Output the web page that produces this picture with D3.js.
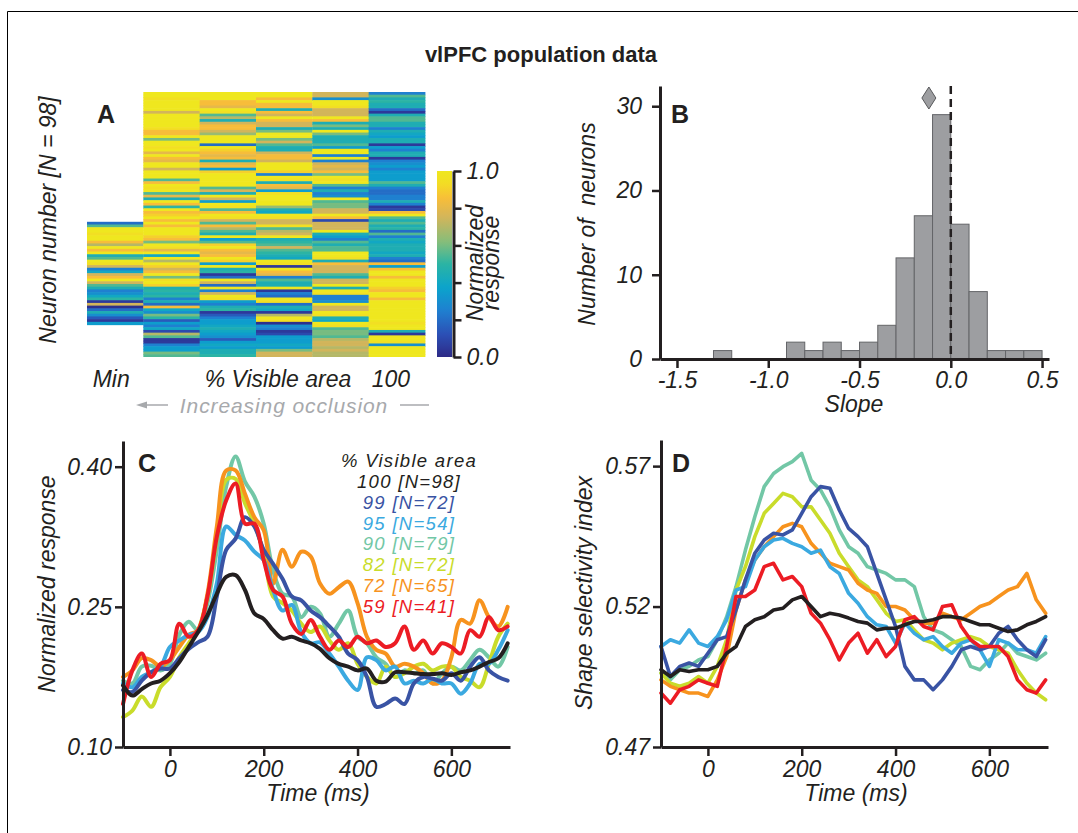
<!DOCTYPE html>
<html><head><meta charset="utf-8">
<script src="https://cdn.jsdelivr.net/npm/d3@7"></script>
<style>
body{margin:0;background:#fff;}
svg{display:block;}
</style></head><body>
<svg id="fig" width="1078" height="833"></svg>
<script>
// ---------------- DATA ----------------
// Panel A: normalized responses, 98 neurons x 6 visibility levels (Min ... 100)
const heatColumnLabels = ["Min", "", "", "", "", "100"];
const heatMinPart = [.2,.55,1,1,.95,1,1,.85,.7,1,.85,1,.45,.55,1,.95,.75,.25,.4,.75,.85,1,.75,.55,.45,.25,.3,.4,.5,.05,.75,.02,.2,.45,.3,.15,.05,.35];
const heatMinFirstNeuron = 48;
const heat2 = [1,1,.95,1,1,1,1,.75,1,1,1,1,1,.95,.85,.85,1,.6,1,1,.95,1,.8,1,.85,.8,1,1,.75,1,1,1,.55,.85,1,.95,1,.55,.8,.45,1,.85,.5,1,.85,.9,1,.85,1,.85,1,1,1,.9,.85,.6,1,.95,.8,1,.4,1,.7,1,.9,.75,.85,1,.6,.95,1,.9,.45,.5,.45,.5,.25,.45,.2,.85,.4,.3,.6,.5,.15,.35,.25,.4,.1,.7,.55,.05,.05,.25,.35,.35,.6,.55];
const heat3 = [1,1,1,.85,.85,.8,1,.95,.55,.7,.45,.75,.85,.85,.75,.65,1,1,1,.2,1,.9,.85,.8,.85,.45,.8,.85,.35,.9,1,1,1,1,1,.55,.75,.45,1,.75,.35,1,.95,.55,.85,1,.95,.75,.55,.85,.7,.55,.45,1,.35,.55,.9,1,.85,.8,.85,1,.9,.35,1,.45,.5,.05,.2,1,.75,.2,1,.25,.75,1,.95,.35,.25,.45,.5,.05,.15,.25,.35,.35,.4,.45,.4,.35,.3,.15,.35,.4,.35,.45,.45,.5];
const heat4 = [1,1,.85,1,.85,.85,.45,.85,.75,1,.85,.75,.75,.45,.6,1,1,.6,.75,.55,.45,.45,.75,.85,.85,.75,1,1,1,.9,.25,1,.95,.45,.85,.8,.35,.95,1,1,1,1,.65,.45,.4,1,.95,.75,.75,.95,.55,.7,.75,1,.45,.5,.55,.75,.55,.5,.45,.4,1,.95,.05,1,.85,.8,.25,.55,.45,.45,1,.05,.25,.2,1,.95,.2,.45,.4,.05,.7,1,.95,.02,.3,.25,.05,.1,.35,.35,.35,.4,.35,.6,.75,.75];
const heat5 = [.75,.75,.3,1,1,.95,.75,.75,.75,1,.85,.45,.6,.45,1,.6,.45,.45,.45,.55,.35,1,1,.25,1,.25,.75,.8,.75,.85,.6,1,.95,1,.55,.25,.45,.25,.3,1,.55,.6,.6,.75,.75,1,.85,.1,.75,.75,.75,1,.45,.35,.25,.55,.45,.55,.55,1,1,.95,.45,.85,.75,.75,.75,.55,.45,.75,.75,1,.45,1,.95,.25,.25,.3,1,.75,.75,1,.95,.45,.4,1,.95,.55,.6,.6,.55,.7,.75,.75,.7,.75,.7,.7];
const heat100 = [.25,.55,.45,.5,.45,.45,.2,.05,.45,.55,.55,.45,.45,.25,.45,.4,.35,.45,.45,.05,.35,.25,.45,.45,.05,.25,.3,.35,.25,.35,.35,.35,.35,.55,.45,.25,.2,.2,.25,.25,.45,.25,.05,.1,.85,1,.55,.45,.55,.45,.5,.2,.55,.25,.45,.4,.45,.45,.45,.4,.45,.25,.2,.85,.35,.85,1,1,.85,1,1,1,.9,.85,1,1,.85,1,1,1,1,1,1,1,1,.95,1,1,.45,.05,1,1,.95,.3,1,1,1,1];
const nNeurons = 98;
const colorbarTicks = [0, 0.2, 0.4, 0.6, 0.8, 1.0];

// Panel B: histogram of slopes
const slopeBinStart = [-1.3,-1.2,-1.1,-1.0,-0.9,-0.8,-0.7,-0.6,-0.5,-0.4,-0.3,-0.2,-0.1,0.0,0.1,0.2,0.3,0.4];
const slopeCounts   = [1,0,0,0,2,1,2,1,2,4,12,17,29,16,8,1,1,1];
const slopeBinWidth = 0.1;
const slopeMedian = -0.12;
const slopeTicks = [-1.5,-1.0,-0.5,0.0,0.5];
const countTicks = [0,10,20,30];

// Panels C & D: time courses
const visLevels = ["100","99","95","90","82","72","59"];
const visN      = [98,72,54,79,72,65,41];
const visColors = ["#231f20","#3953a4","#3ba9e0","#72c7a6","#c9dc2b","#f7931e","#ec1c24"];
const timeMs = [-100,-80,-60,-40,-20,0,20,40,60,80,100,120,140,160,180,200,220,240,260,280,300,320,340,360,380,400,420,440,460,480,500,520,540,560,580,600,620,640,660,680,700,720];
const timeTicks = [0,200,400,600];

const resp100 = [0.166,0.155,0.162,0.168,0.171,0.179,0.191,0.207,0.223,0.241,0.264,0.282,0.284,0.268,0.243,0.237,0.225,0.216,0.218,0.214,0.211,0.205,0.195,0.189,0.186,0.182,0.184,0.171,0.170,0.180,0.180,0.179,0.178,0.178,0.179,0.177,0.180,0.182,0.186,0.191,0.195,0.211];
const resp99  = [0.161,0.159,0.171,0.180,0.184,0.184,0.195,0.205,0.212,0.218,0.261,0.311,0.323,0.346,0.336,0.311,0.296,0.280,0.261,0.257,0.246,0.239,0.229,0.218,0.200,0.193,0.175,0.143,0.146,0.152,0.146,0.168,0.175,0.173,0.171,0.179,0.171,0.186,0.196,0.182,0.175,0.171];
const resp95  = [0.168,0.164,0.175,0.180,0.186,0.207,0.214,0.220,0.223,0.239,0.275,0.336,0.327,0.321,0.309,0.300,0.268,0.246,0.252,0.223,0.211,0.212,0.200,0.186,0.171,0.161,0.196,0.193,0.182,0.186,0.168,0.171,0.168,0.173,0.168,0.168,0.157,0.168,0.189,0.189,0.204,0.225];
const resp90  = [0.171,0.168,0.186,0.187,0.182,0.189,0.220,0.234,0.225,0.254,0.311,0.379,0.411,0.384,0.368,0.339,0.289,0.264,0.261,0.239,0.250,0.243,0.218,0.232,0.246,0.218,0.211,0.196,0.189,0.175,0.182,0.179,0.182,0.168,0.179,0.186,0.182,0.193,0.204,0.196,0.186,0.207];
const resp82  = [0.132,0.139,0.154,0.143,0.164,0.175,0.196,0.211,0.225,0.261,0.325,0.386,0.387,0.361,0.339,0.307,0.261,0.254,0.246,0.232,0.223,0.229,0.214,0.204,0.211,0.189,0.175,0.168,0.186,0.175,0.179,0.186,0.189,0.182,0.186,0.186,0.175,0.171,0.164,0.189,0.218,0.232];
const resp72  = [0.175,0.182,0.195,0.193,0.186,0.193,0.207,0.220,0.225,0.264,0.336,0.396,0.396,0.371,0.346,0.332,0.275,0.311,0.293,0.309,0.304,0.275,0.264,0.271,0.277,0.254,0.218,0.204,0.200,0.186,0.189,0.186,0.179,0.168,0.171,0.196,0.236,0.232,0.257,0.239,0.229,0.250];
const resp59  = [0.146,0.182,0.200,0.175,0.189,0.193,0.232,0.218,0.225,0.261,0.325,0.364,0.382,0.339,0.339,0.300,0.268,0.261,0.232,0.221,0.236,0.218,0.204,0.214,0.207,0.218,0.211,0.214,0.207,0.211,0.229,0.204,0.214,0.200,0.211,0.207,0.200,0.225,0.218,0.239,0.225,0.229];
const respTicks = [0.10,0.25,0.40];

const ssi100 = [0.4975,0.4951,0.4975,0.4969,0.4975,0.4975,0.4987,0.5034,0.5058,0.5129,0.5153,0.5164,0.5188,0.5194,0.5224,0.5236,0.5200,0.5164,0.5176,0.5170,0.5159,0.5147,0.5141,0.5117,0.5123,0.5123,0.5135,0.5147,0.5147,0.5153,0.5164,0.5164,0.5159,0.5147,0.5135,0.5135,0.5123,0.5111,0.5117,0.5135,0.5147,0.5164];
const ssi99  = [0.5058,0.4951,0.4987,0.4999,0.4987,0.5034,0.5082,0.5093,0.5188,0.5295,0.5390,0.5437,0.5461,0.5455,0.5473,0.5532,0.5591,0.5627,0.5621,0.5544,0.5478,0.5449,0.5413,0.5318,0.5224,0.5129,0.4987,0.4939,0.4939,0.4904,0.4939,0.4987,0.5046,0.5058,0.5046,0.5058,0.5105,0.5129,0.5082,0.5046,0.5022,0.5082];
const ssi95  = [0.5058,0.5082,0.5070,0.5117,0.5070,0.5058,0.5093,0.5153,0.5259,0.5271,0.5366,0.5413,0.5437,0.5443,0.5425,0.5413,0.5390,0.5401,0.5342,0.5318,0.5247,0.5212,0.5164,0.5135,0.5129,0.5070,0.5141,0.5105,0.5082,0.5093,0.5058,0.5034,0.5070,0.5082,0.5046,0.4987,0.5082,0.5070,0.5046,0.5046,0.5034,0.5093];
const ssi90  = [0.4963,0.4939,0.4975,0.4987,0.5010,0.5022,0.5082,0.5164,0.5271,0.5401,0.5520,0.5627,0.5674,0.5698,0.5716,0.5745,0.5650,0.5615,0.5555,0.5473,0.5413,0.5390,0.5342,0.5330,0.5318,0.5295,0.5295,0.5271,0.5164,0.5117,0.5105,0.5082,0.5058,0.4987,0.4975,0.5010,0.5034,0.5070,0.5034,0.5022,0.5010,0.5034];
const ssi82  = [0.4963,0.4927,0.4916,0.4927,0.4951,0.4927,0.4987,0.5082,0.5259,0.5342,0.5449,0.5532,0.5567,0.5603,0.5591,0.5555,0.5555,0.5508,0.5461,0.5390,0.5342,0.5295,0.5271,0.5224,0.5176,0.5147,0.5153,0.5117,0.5082,0.5070,0.5046,0.5070,0.5082,0.5093,0.5082,0.5058,0.5046,0.5034,0.4975,0.4927,0.4892,0.4868];
const ssi72  = [0.4939,0.4916,0.4904,0.4892,0.4892,0.4880,0.4939,0.5022,0.5188,0.5295,0.5366,0.5413,0.5449,0.5484,0.5496,0.5484,0.5425,0.5390,0.5354,0.5342,0.5330,0.5283,0.5259,0.5247,0.5200,0.5200,0.5188,0.5153,0.5141,0.5141,0.5176,0.5164,0.5153,0.5176,0.5200,0.5212,0.5236,0.5259,0.5271,0.5318,0.5224,0.5176];
const ssi59  = [0.4892,0.4856,0.4904,0.4916,0.4939,0.4927,0.4916,0.5058,0.5236,0.5236,0.5259,0.5342,0.5354,0.5295,0.5307,0.5271,0.5176,0.5141,0.5082,0.5010,0.5070,0.5105,0.5034,0.5082,0.5022,0.5058,0.5153,0.5164,0.5129,0.5117,0.5200,0.5206,0.5129,0.5082,0.5058,0.5058,0.5058,0.5022,0.4939,0.4904,0.4892,0.4939];
const ssiTicks = [0.47,0.52,0.57];

// ---------------- DRAWING ----------------
const FONT = '"Liberation Sans", Arial, Helvetica, sans-serif';
const INK = "#231f20";
const FS = 23;
const svg = d3.select("#fig");

function label(x, y, s, o = {}) {
  const t = svg.append("text")
    .attr("x", x).attr("y", y).text(s)
    .attr("font-family", FONT)
    .attr("font-size", o.size || FS)
    .attr("font-style", o.bold ? "normal" : "italic")
    .attr("font-weight", o.bold ? "bold" : "normal")
    .attr("fill", o.fill || INK)
    .attr("text-anchor", o.anchor || "middle");
  if (o.rot) t.attr("transform", `rotate(-90,${x},${y})`);
  return t;
}
function styleAxis(g) {
  g.attr("font-family", FONT).attr("font-size", FS);
  g.select(".domain").attr("stroke", INK).attr("stroke-width", 3);
  g.selectAll(".tick line").attr("stroke", INK).attr("stroke-width", 2.5);
  g.selectAll(".tick text").attr("font-style", "italic").attr("fill", INK);
}

// frame
svg.append("line").attr("x1", 7.5).attr("y1", 11.5).attr("x2", 1078).attr("y2", 11.5).attr("stroke", "#000").attr("stroke-width", 1);
svg.append("line").attr("x1", 7.5).attr("y1", 11.5).attr("x2", 7.5).attr("y2", 833).attr("stroke", "#000").attr("stroke-width", 1);

// title
label(541, 62, "vlPFC population data", {bold: true, size: 22});

// ----- Panel A -----
const parula = d3.scaleLinear()
  .domain([0, 0.12, 0.25, 0.37, 0.5, 0.62, 0.75, 0.85, 0.93, 1])
  .range(["#2d2a86", "#2c4fb5", "#1f80d0", "#0ba3cc", "#2bb4a4", "#86bd7a", "#d2b55b", "#f7bd3a", "#f3dc24", "#efe71f"])
  .clamp(true);

const heatMin = d3.range(nNeurons).map(i => {
  const k = i - heatMinFirstNeuron;
  return (k >= 0 && k < heatMinPart.length) ? heatMinPart[k] : null;
});
const heatCols = [heatMin, heat2, heat3, heat4, heat5, heat100];
const xA = d3.scaleBand().domain(d3.range(heatCols.length)).range([87, 425]);
const yA = d3.scaleBand().domain(d3.range(nNeurons)).range([92, 357]);
heatCols.forEach((col, c) => {
  svg.append("g").selectAll("rect")
    .data(col.map((v, i) => ({v, i})).filter(d => d.v != null))
    .join("rect")
    .attr("x", xA(c)).attr("y", d => yA(d.i))
    .attr("width", xA.bandwidth() + 0.4)
    .attr("height", d => d.i === nNeurons - 1 ? yA.bandwidth() : yA.bandwidth() + 0.6)
    .attr("fill", d => parula(d.v));
});

// colorbar
const cbScale = d3.scaleLinear().domain([0, 1]).range([357, 171]);
const defs = svg.append("defs");
const grad = defs.append("linearGradient").attr("id", "cbgrad").attr("x1", 0).attr("y1", 1).attr("x2", 0).attr("y2", 0);
d3.range(0, 1.0001, 0.02).forEach(v => grad.append("stop").attr("offset", v).attr("stop-color", parula(v)));
svg.append("rect").attr("x", 437).attr("y", cbScale(1)).attr("width", 15).attr("height", cbScale(0) - cbScale(1)).attr("fill", "url(#cbgrad)");
const cbAxis = svg.append("g").attr("transform", "translate(453.5,0)")
  .call(d3.axisRight(cbScale).tickValues(colorbarTicks).tickSize(8).tickSizeOuter(0).tickPadding(5)
    .tickFormat(d => (d === 0 || d === 1) ? d.toFixed(1) : ""));
styleAxis(cbAxis);
label(483, 263, "Normalized", {rot: true});
label(499, 263, "response", {rot: true});

label(106, 123, "A", {bold: true, size: 25});
label(56, 220, "Neuron number [N = 98]", {rot: true});
label(xA(0) + xA.bandwidth() / 2 - 4, 387, heatColumnLabels[0]);
label(278, 387, "% Visible area");
label(xA(5) + xA.bandwidth() / 2 - 6, 387, heatColumnLabels[5]);
label(284, 413, "Increasing occlusion", {fill: "#a7a9ac", size: 21}).attr("letter-spacing", 0.9);
svg.append("line").attr("x1", 144).attr("y1", 405).attr("x2", 168).attr("y2", 405).attr("stroke", "#a7a9ac").attr("stroke-width", 1.5);
svg.append("path").attr("d", "M136,405 L147,401.5 L147,408.5 Z").attr("fill", "#a7a9ac");
svg.append("line").attr("x1", 400).attr("y1", 405).attr("x2", 429).attr("y2", 405).attr("stroke", "#a7a9ac").attr("stroke-width", 1.5);

// ----- Panel B -----
const xB = d3.scaleLinear().domain([-1.593, 0.538]).range([660, 1049]);
const yB = d3.scaleLinear().domain([0, 32.4]).range([359, 86]);
svg.append("g").selectAll("rect")
  .data(slopeBinStart.map((s, i) => ({s, n: slopeCounts[i]})).filter(d => d.n > 0))
  .join("rect")
  .attr("x", d => xB(d.s)).attr("y", d => yB(d.n))
  .attr("width", d => xB(d.s + slopeBinWidth) - xB(d.s))
  .attr("height", d => yB(0) - yB(d.n))
  .attr("fill", "#9d9ea1").attr("stroke", "#646568").attr("stroke-width", 1);
const gxB = svg.append("g").attr("transform", `translate(0,${yB(0)})`)
  .call(d3.axisBottom(xB).tickValues(slopeTicks).tickSize(9).tickSizeOuter(0).tickPadding(4).tickFormat(d => d.toFixed(1)));
styleAxis(gxB);
const gyB = svg.append("g").attr("transform", `translate(${xB.range()[0]},0)`)
  .call(d3.axisLeft(yB).tickValues(countTicks).tickSize(8).tickSizeOuter(0).tickPadding(10));
styleAxis(gyB);
svg.append("line").attr("x1", xB(0)).attr("x2", xB(0)).attr("y1", yB.range()[1]).attr("y2", yB(0))
  .attr("stroke", INK).attr("stroke-width", 2.5).attr("stroke-dasharray", "8,5");
svg.append("path")
  .attr("d", `M${xB(slopeMedian)},87 l7,11 l-7,11 l-7,-11 Z`)
  .attr("fill", "#9d9ea1").attr("stroke", "#58595b").attr("stroke-width", 1);
label(680, 123, "B", {bold: true, size: 25});
label(595, 224, "Number of\u00a0 neurons", {rot: true});
label(854, 412, "Slope");

// ----- Panel C -----
const xC = d3.scaleLinear().domain([-100, 725]).range([123, 510]);
const yC = d3.scaleLinear().domain([0.10, 0.4275]).range([747, 441]);
const respSeries = [resp100, resp99, resp95, resp90, resp82, resp72, resp59];
const drawOrder = [3, 4, 5, 2, 1, 6, 0];
const lineC = d3.line().x((d, i) => xC(timeMs[i])).y(d => yC(d)).curve(d3.curveCatmullRom.alpha(0.5));
drawOrder.forEach(k => {
  svg.append("path").attr("d", lineC(respSeries[k])).attr("fill", "none")
    .attr("stroke", visColors[k]).attr("stroke-width", 4).attr("stroke-linejoin", "round").attr("stroke-linecap", "round");
});
const gxC = svg.append("g").attr("transform", `translate(0,${yC(0.10)})`)
  .call(d3.axisBottom(xC).tickValues(timeTicks).tickSize(9).tickSizeOuter(0).tickPadding(5));
styleAxis(gxC);
const gyC = svg.append("g").attr("transform", `translate(${xC.range()[0]},0)`)
  .call(d3.axisLeft(yC).tickValues(respTicks).tickSize(8).tickSizeOuter(0).tickPadding(3).tickFormat(d3.format(".2f")));
styleAxis(gyC);
label(147, 472, "C", {bold: true, size: 25});
label(55, 584, "Normalized response", {rot: true});
label(318, 801, "Time (ms)");
// legend: header plus one line per visibility level (tight line spacing as in the figure)
const LEG_FS = 18.5, LEG_STEP = 20.86, LEG_LS = 1.3;
label(409, 467, "% Visible area", {size: LEG_FS}).attr("letter-spacing", LEG_LS);
visLevels.forEach((lv, k) => {
  label(409, 467 + (k + 1) * LEG_STEP, `${lv} [N=${visN[k]}]`, {size: LEG_FS, fill: visColors[k]})
    .attr("letter-spacing", LEG_LS);
});

// ----- Panel D -----
const xD = d3.scaleLinear().domain([-100, 725]).range([661, 1048]);
const yD = d3.scaleLinear().domain([0.47, 0.5793]).range([747, 440]);
const ssiSeries = [ssi100, ssi99, ssi95, ssi90, ssi82, ssi72, ssi59];
const lineD = d3.line().x((d, i) => xD(timeMs[i])).y(d => yD(d)).curve(d3.curveLinear);
drawOrder.forEach(k => {
  svg.append("path").attr("d", lineD(ssiSeries[k])).attr("fill", "none")
    .attr("stroke", visColors[k]).attr("stroke-width", 3.6).attr("stroke-linejoin", "round").attr("stroke-linecap", "round");
});
const gxD = svg.append("g").attr("transform", `translate(0,${yD(0.47)})`)
  .call(d3.axisBottom(xD).tickValues(timeTicks).tickSize(9).tickSizeOuter(0).tickPadding(5));
styleAxis(gxD);
const gyD = svg.append("g").attr("transform", `translate(${xD.range()[0]},0)`)
  .call(d3.axisLeft(yD).tickValues(ssiTicks).tickSize(8).tickSizeOuter(0).tickPadding(3).tickFormat(d3.format(".2f")));
styleAxis(gyD);
label(681, 472, "D", {bold: true, size: 25});
label(592, 593, "Shape selectivity index", {rot: true});
label(856, 801, "Time (ms)");
</script>
</body></html>
